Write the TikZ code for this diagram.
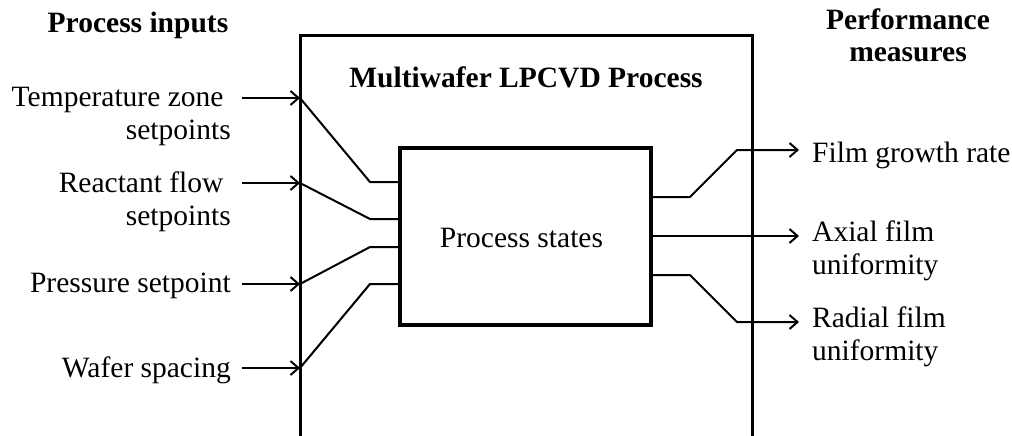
\documentclass[tikz,border=0pt]{standalone}
\usepackage{fontspec}
\setmainfont{Liberation Serif}
\usetikzlibrary{arrows.meta}
\begin{document}
\begin{tikzpicture}[x=1pt,y=-1pt,
  every node/.style={inner sep=0pt,font=\fontsize{29.5}{32.5}\selectfont},
  lbl/.style={align=right,anchor=base east},
  rlbl/.style={align=left,anchor=base west},
  head/.style={align=center,anchor=base,font=\fontsize{29.5}{32.5}\selectfont\bfseries},
  wire/.style={line width=2pt},
  arr/.style={line width=2pt,-{Straight Barb[length=8pt,width=14pt,line width=2pt]}},
  outerbox/.style={line width=3pt},
  statebox/.style={draw,line width=3.5pt,minimum width=251pt,minimum height=177pt}]
\useasboundingbox (0,0) rectangle (1012,436);
% outer process box (open at the bottom)
\coordinate (obl) at (300,438);
\coordinate (otl) at (300,36);
\coordinate (otr) at (752,36);
\coordinate (obr) at (752,438);
\draw[outerbox] (obl) -- (otl) -- (otr) -- (obr);
% inner state box
\node[statebox] (states) at (525.5,236.5) {};
\node[anchor=base] (stxt) at (521.5,247) {Process states};
% headings (multi-line nodes: base = last line)
\node[head] (hin) at (138,33) {Process inputs};
\node[head] (hout) at (908,62) {Performance\\measures};
\node[head] (htitle) at (526,88) {Multiwafer LPCVD Process};
% input labels
\node[lbl] (tz) at (231,139) {Temperature zone\hspace*{.25em}\\setpoints};
\node[lbl] (rf) at (231,225) {Reactant flow\hspace*{.25em}\\setpoints};
\node[lbl] (ps) at (231,292) {Pressure setpoint};
\node[lbl] (ws) at (231,377) {Wafer spacing};
% input entry points on the outer box
\coordinate (tzin) at (300,98);
\coordinate (rfin) at (300,183);
\coordinate (psin) at (300,284);
\coordinate (wsin) at (300,368);
\coordinate (tzt) at (242,98);
\coordinate (rft) at (242,183);
\coordinate (pst) at (242,284);
\coordinate (wst) at (242,368);
\draw[arr] (tzt) -- (tzin);
\draw[arr] (rft) -- (rfin);
\draw[arr] (pst) -- (psin);
\draw[arr] (wst) -- (wsin);
% internal wiring to the state box
\coordinate (tzk) at (370,182);
\coordinate (rfk) at (370,219);
\coordinate (psk) at (370,247);
\coordinate (wsk) at (370,284);
\draw[wire] (tzin) -- (tzk) -- (states.west |- tzk);
\draw[wire] (rfin) -- (rfk) -- (states.west |- rfk);
\draw[wire] (psin) -- (psk) -- (states.west |- psk);
\draw[wire] (wsin) -- (wsk) -- (states.west |- wsk);
% output labels
\node[rlbl] (fg) at (812,162) {Film growth rate};
\node[rlbl] (ax) at (812,274) {Axial film\\uniformity};
\node[rlbl] (rd) at (812,360) {Radial film\\uniformity};
% outputs
\coordinate (fgo) at (651,197);
\coordinate (fgk1) at (690,197);
\coordinate (fgk2) at (737,150);
\coordinate (fgt) at (799,150);
\coordinate (axo) at (651,236);
\coordinate (axt) at (799,236);
\coordinate (rdo) at (651,275);
\coordinate (rdk1) at (690,275);
\coordinate (rdk2) at (737,322);
\coordinate (rdt) at (799,322);
\draw[arr] (states.east |- fgo) -- (fgk1) -- (fgk2) -- (fgt);
\draw[arr] (states.east |- axo) -- (axt);
\draw[arr] (states.east |- rdo) -- (rdk1) -- (rdk2) -- (rdt);
\end{tikzpicture}
\end{document}
